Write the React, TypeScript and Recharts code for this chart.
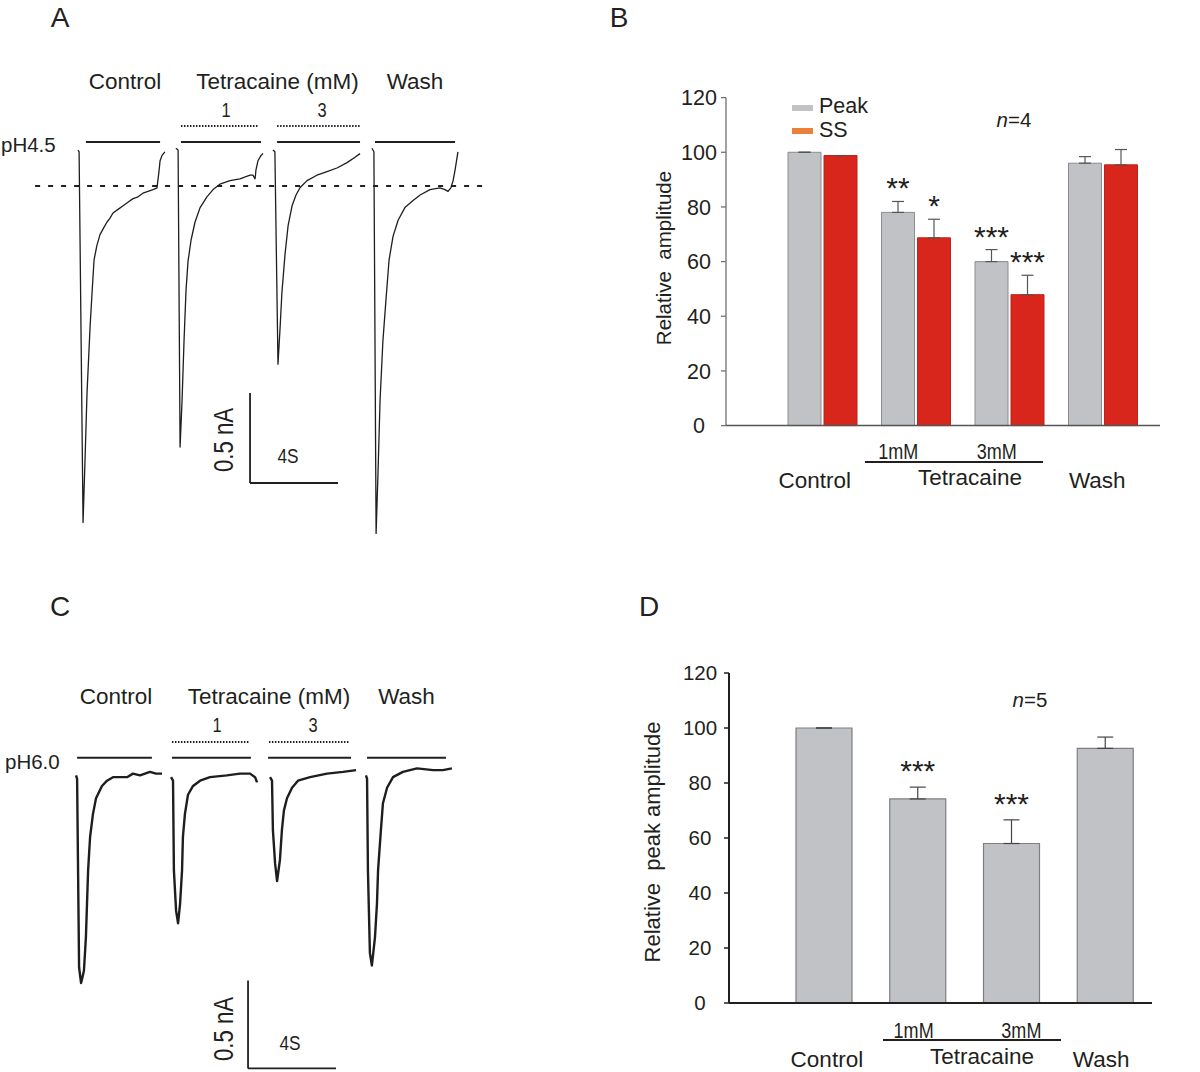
import React from 'react'
import {
  LineChart,
  Line,
  XAxis,
  YAxis,
  ReferenceLine,
  BarChart,
  Bar,
  ErrorBar,
  LabelList,
} from 'recharts'

// Figura de 4 paneles: registros (A, C) y barras normalizadas (B, D).

const INK = '#231f20'
const SANS = '"Liberation Sans", Arial, sans-serif'
const ESTRECHO = 0.82 // textos en Arial Narrow: se comprime la Liberation Sans
const GRIS = '#c1c2c6'
const GRIS_BORDE = '#8b8c90'
const ROJO = '#d8261d'
const ROJO_BORDE = '#b9231b'
const NARANJA = '#ec7f3a'

// ---- A: pH 4.5, [t (s), I (nA)] ----
const aControl = [
  [0, 0], [0.05, -0.01], [0.23, -2.07], [0.32, -1.72], [0.41, -1.35], [0.55, -0.98],
  [0.64, -0.79], [0.73, -0.61], [0.86, -0.53], [1.0, -0.47], [1.18, -0.43], [1.32, -0.4],
  [1.45, -0.38], [1.59, -0.35], [1.82, -0.33], [2.05, -0.31], [2.27, -0.29], [2.5, -0.27],
  [2.73, -0.26], [2.95, -0.24], [3.18, -0.23], [3.41, -0.22], [3.59, -0.21], [3.68, -0.12],
  [3.73, -0.06], [3.82, -0.03], [3.95, -0.01],
]
const a1mM = [
  [4.45, 0.01], [4.55, 0.0], [4.64, -1.65], [4.73, -1.39], [4.82, -1.06], [4.91, -0.78],
  [5.0, -0.62], [5.14, -0.5], [5.32, -0.4], [5.55, -0.32], [5.86, -0.26], [6.14, -0.22],
  [6.45, -0.19], [6.91, -0.17], [7.36, -0.16], [7.82, -0.14], [7.95, -0.14], [8.05, -0.16],
  [8.09, -0.11], [8.18, -0.06], [8.32, -0.03], [8.41, -0.02],
]
const a3mM = [
  [8.86, 0.0], [8.95, -0.01], [9.09, -1.19], [9.18, -1.0], [9.27, -0.79], [9.41, -0.58],
  [9.55, -0.42], [9.73, -0.31], [9.91, -0.25], [10.09, -0.21], [10.41, -0.17], [10.86, -0.14],
  [11.32, -0.12], [11.77, -0.1], [12.23, -0.07], [12.59, -0.04], [12.82, -0.02],
]
const aWash = [
  [13.36, 0.01], [13.45, -0.01], [13.55, -2.13], [13.64, -1.78], [13.73, -1.39], [13.86, -1.06],
  [14.0, -0.83], [14.14, -0.61], [14.32, -0.48], [14.55, -0.39], [14.86, -0.32], [15.23, -0.28],
  [15.55, -0.25], [16.0, -0.22], [16.45, -0.21], [16.68, -0.22], [16.82, -0.23], [16.95, -0.21],
  [17.05, -0.17], [17.14, -0.11], [17.27, -0.01],
]
const aPulses = [[0.36, 3.73], [4.68, 8.32], [9.05, 12.82], [13.5, 17.14]]
const aDrug = [[4.68, 8.18], [9.05, 12.82]]
const aSS = -0.2

// ---- C: pH 6.0 ----
const cControl = [
  [0, 0], [0.05, -0.02], [0.14, -1.09], [0.23, -1.18], [0.27, -1.16], [0.36, -1.11],
  [0.45, -0.92], [0.5, -0.73], [0.55, -0.54], [0.64, -0.35], [0.77, -0.22], [0.91, -0.13],
  [1.18, -0.06], [1.41, -0.03], [1.68, -0.01], [2.0, -0.01], [2.32, -0.01], [2.59, 0.01],
  [2.91, 0.0], [3.36, 0.02], [3.64, 0.01], [3.91, 0.01],
]
const c1mM = [
  [4.32, -0.01], [4.41, -0.03], [4.45, -0.54], [4.55, -0.77], [4.64, -0.84], [4.73, -0.73],
  [4.82, -0.54], [4.86, -0.35], [4.95, -0.22], [5.09, -0.11], [5.32, -0.06], [5.64, -0.03],
  [6.09, -0.01], [6.86, 0.0], [7.45, 0.01], [7.91, 0.01], [8.14, -0.01], [8.23, -0.04],
]
const c3mM = [
  [8.82, -0.01], [8.91, -0.03], [8.95, -0.31], [9.05, -0.5], [9.14, -0.6], [9.27, -0.48],
  [9.36, -0.31], [9.45, -0.2], [9.59, -0.13], [9.82, -0.07], [10.09, -0.03], [10.64, -0.01],
  [11.41, 0.01], [12.14, 0.02], [12.73, 0.03],
]
const cWash = [
  [13.18, 0.0], [13.23, -0.02], [13.27, -0.54], [13.36, -1.01], [13.45, -1.08], [13.59, -0.92],
  [13.68, -0.73], [13.73, -0.54], [13.86, -0.31], [13.95, -0.16], [14.14, -0.07], [14.41, -0.01],
  [14.86, 0.02], [15.5, 0.04], [16.23, 0.03], [16.68, 0.03], [17.09, 0.04],
]
const cPulses = [[0.05, 3.45], [4.36, 7.95], [8.73, 12.5], [13.23, 16.82]]
const cDrug = [[4.36, 7.86], [8.77, 12.45]]

// barra de escala: 4 s, 0.5 nA
const ESCALA_T = 4
const ESCALA_I = 0.5

// ---- B y D ----
const grupos = ['Control', '1mM', '3mM', 'Wash']
const bPeak = [100, 78, 60, 96]
const bPeakErr = [0, 4, 4.4, 2.4]
const bSS = [98.8, 68.7, 47.9, 95.4]
const bSSErr = [0, 6.8, 7.1, 5.6]
const bPeakStars = ['', '**', '***', '']
const bSSStars = ['', '*', '***', '']

const dPeak = [100, 74.2, 58, 92.6]
const dPeakErr = [0, 4.3, 8.6, 4.1]
const dStars = ['', '***', '***', '']

const yTicks = [0, 20, 40, 60, 80, 100, 120]

function Txt({ x, y, size = 22.5, anchor = 'middle', rotate = 0, narrow = false, children }: any) {
  const tx = anchor === 'middle' ? '-50%' : anchor === 'start' ? '0%' : '-100%'
  const origin = anchor === 'start' ? 'left center' : 'center'
  return (
    <div
      style={{
        position: 'absolute',
        left: x,
        top: y,
        transform: `translate(${tx}, -50%) rotate(${rotate}deg)${narrow ? ` scaleX(${ESTRECHO})` : ''}`,
        transformOrigin: origin,
        fontSize: size,
        fontFamily: SANS,
        lineHeight: 1,
        whiteSpace: 'pre',
        color: INK,
      }}
    >
      {children}
    </div>
  )
}

function Traces({ traces, pulses, drug, pulseY, drugY, ss, scaleAt, box, xDomain, yDomain, width }: any) {
  const [t0, i0] = scaleAt
  return (
    <div style={{ position: 'absolute', left: box.left, top: box.top }}>
      <LineChart width={box.width} height={box.height} margin={{ top: 0, right: 0, bottom: 0, left: 0 }}>
        <XAxis type="number" dataKey="t" domain={xDomain} hide allowDataOverflow />
        <YAxis type="number" domain={yDomain} hide allowDataOverflow />
        {pulses.map(([a, b]: number[], k: number) => (
          <ReferenceLine
            key={'p' + k}
            segment={[{ x: a, y: pulseY }, { x: b, y: pulseY }]}
            stroke={INK}
            strokeWidth={2}
            ifOverflow="visible"
          />
        ))}
        {drug.map(([a, b]: number[], k: number) => (
          <ReferenceLine
            key={'d' + k}
            segment={[{ x: a, y: drugY }, { x: b, y: drugY }]}
            stroke={INK}
            strokeWidth={2}
            strokeDasharray="1.5 1.5"
            ifOverflow="visible"
          />
        ))}
        {ss != null && (
          <ReferenceLine
            segment={[{ x: -1.95, y: ss }, { x: 18.6, y: ss }]}
            stroke={INK}
            strokeWidth={1.8}
            strokeDasharray="5 8"
            ifOverflow="visible"
          />
        )}
        <ReferenceLine
          segment={[{ x: t0, y: i0 }, { x: t0, y: i0 + ESCALA_I }]}
          stroke={INK}
          strokeWidth={1.8}
          ifOverflow="visible"
        />
        <ReferenceLine
          segment={[{ x: t0, y: i0 }, { x: t0 + ESCALA_T, y: i0 }]}
          stroke={INK}
          strokeWidth={1.8}
          ifOverflow="visible"
        />
        {traces.map((d: number[][], k: number) => (
          <Line
            key={k}
            data={d.map(([t, i]) => ({ t, i }))}
            dataKey="i"
            type="linear"
            dot={false}
            stroke="#1e1e1e"
            strokeWidth={width}
            strokeLinejoin="round"
            isAnimationActive={false}
          />
        ))}
      </LineChart>
    </div>
  )
}

const yTick = (shift: number, size: number) => (p: any) => (
  <text x={p.x - shift} y={p.y} dy="0.36em" textAnchor="middle" fontSize={size} fontFamily={SANS} fill={INK}>
    {p.payload.value}
  </text>
)

const xTick = (near: number, far: number, shifts: Record<string, number>) => (p: any) => {
  const v = p.payload.value
  const dosis = v === '1mM' || v === '3mM'
  const x = p.x + (shifts[v] ?? 0)
  const y = p.y + (dosis ? near : far)
  return (
    <text
      transform={`translate(${x} ${y}) scale(${dosis ? ESTRECHO : 1} 1)`}
      dy="0.36em"
      textAnchor="middle"
      fontSize={dosis ? 22 : 22.5}
      fontFamily={SANS}
      fill={INK}
    >
      {v}
    </text>
  )
}

const starLabel = (vals: number[], errs: number[], lift: number) => (p: any) => {
  const vb = p.viewBox ?? p
  const { x, y, width, height } = vb
  const idx = p.index
  if (!p.value || idx == null) return null
  const top = y - (errs[idx] * height) / vals[idx]
  return (
    <text x={x + width / 2} y={top - lift} textAnchor="middle" fontSize={30} fontFamily={SANS} fill={INK}>
      {p.value}
    </text>
  )
}

function PanelB() {
  const data = grupos.map((g, k) => ({
    g,
    peak: bPeak[k],
    ss: bSS[k],
    peakErr: [0, bPeakErr[k]],
    ssErr: [0, bSSErr[k]],
    peakStar: bPeakStars[k],
    ssStar: bSSStars[k],
  }))
  return (
    <div style={{ position: 'absolute', left: 640, top: 80 }}>
      <BarChart
        width={530}
        height={420}
        data={data}
        margin={{ top: 17.6, right: 10, bottom: 14.4, left: 26 }}
        barSize={33}
        barGap={3}
      >
        <XAxis
          dataKey="g"
          interval={0}
          padding={{ left: 50, right: 10 }}
          height={60}
          tickSize={0}
          tickLine={false}
          axisLine={{ stroke: '#555', strokeWidth: 1.5 }}
          tick={xTick(23, 52, { Control: -8, '1mM': -18, '3mM': -13, Wash: -6 })}
        />
        <YAxis
          width={60}
          domain={[0, 120]}
          ticks={yTicks}
          tickSize={5}
          tickMargin={2}
          axisLine={{ stroke: '#707070', strokeWidth: 1.3 }}
          tickLine={{ stroke: '#707070', strokeWidth: 1.3 }}
          tick={yTick(20, 21.5)}
        />
        <Bar dataKey="peak" fill={GRIS} stroke={GRIS_BORDE} strokeWidth={1} isAnimationActive={false}>
          <ErrorBar dataKey="peakErr" width={6} stroke="#555" strokeWidth={1.2} direction="y" />
          <LabelList dataKey="peakStar" content={starLabel(bPeak, bPeakErr, 3)} />
        </Bar>
        <Bar dataKey="ss" fill={ROJO} stroke={ROJO_BORDE} strokeWidth={1} isAnimationActive={false}>
          <ErrorBar dataKey="ssErr" width={6} stroke="#555" strokeWidth={1.2} direction="y" />
          <LabelList dataKey="ssStar" content={starLabel(bSS, bSSErr, 3)} />
        </Bar>
      </BarChart>
    </div>
  )
}

function PanelD() {
  const data = grupos.map((g, k) => ({
    g,
    peak: dPeak[k],
    peakErr: [0, dPeakErr[k]],
    star: dStars[k],
  }))
  return (
    <div style={{ position: 'absolute', left: 640, top: 650 }}>
      <BarChart
        width={520}
        height={422}
        data={data}
        margin={{ top: 23, right: 8, bottom: 9, left: 29 }}
        barSize={56}
      >
        <XAxis
          dataKey="g"
          interval={0}
          padding={{ left: 48, right: 0 }}
          height={60}
          tickSize={0}
          tickLine={false}
          axisLine={{ stroke: INK, strokeWidth: 2 }}
          tick={xTick(25, 54, { Control: 3, '1mM': -4, '3mM': 10, Wash: -4 })}
        />
        <YAxis
          width={60}
          domain={[0, 120]}
          ticks={yTicks}
          tickSize={5}
          tickMargin={2}
          axisLine={{ stroke: INK, strokeWidth: 2 }}
          tickLine={{ stroke: INK, strokeWidth: 1.5 }}
          tick={yTick(22, 20.5)}
        />
        <Bar dataKey="peak" fill={GRIS} stroke="#7e7f83" strokeWidth={1.2} isAnimationActive={false}>
          <ErrorBar dataKey="peakErr" width={8} stroke="#444" strokeWidth={1.2} direction="y" />
          <LabelList dataKey="star" content={starLabel(dPeak, dPeakErr, 6)} />
        </Bar>
      </BarChart>
    </div>
  )
}

export default function App() {
  return (
    <div
      style={{
        position: 'absolute',
        left: 0,
        top: 0,
        width: 1200,
        height: 1072,
        background: '#fff',
        overflow: 'hidden',
      }}
    >
      {/* letras de panel */}
      <Txt x={60} y={18} size={28}>A</Txt>
      <Txt x={619} y={18} size={28}>B</Txt>
      <Txt x={60} y={607} size={28}>C</Txt>
      <Txt x={649} y={607} size={28}>D</Txt>

      {/* A */}
      <Traces
        traces={[aControl, a1mM, a3mM, aWash]}
        pulses={aPulses}
        drug={aDrug}
        pulseY={0.044}
        drugY={0.133}
        ss={aSS}
        scaleAt={[7.82, -1.85]}
        box={{ left: 34, top: 96, width: 462, height: 450 }}
        xDomain={[-2, 19]}
        yDomain={[-2.2, 0.3]}
        width={1.3}
      />
      <Txt x={125} y={82}>Control</Txt>
      <Txt x={277.5} y={82}>Tetracaine (mM)</Txt>
      <Txt x={415} y={82}>Wash</Txt>
      <Txt x={226} y={110} size={20} narrow>1</Txt>
      <Txt x={322} y={110} size={20} narrow>3</Txt>
      <Txt x={1} y={145} size={20.5} anchor="start">pH4.5</Txt>
      <Txt x={224} y={440} size={27} narrow rotate={-90}>0.5 nA</Txt>
      <Txt x={288} y={455} size={21} narrow>4S</Txt>

      {/* C */}
      <Traces
        traces={[cControl, c1mM, c3mM, cWash]}
        pulses={cPulses}
        drug={cDrug}
        pulseY={0.1}
        drugY={0.19}
        ss={null}
        scaleAt={[7.82, -1.665]}
        box={{ left: 32, top: 704.6, width: 462, height: 387.2 }}
        xDomain={[-2, 19]}
        yDomain={[-1.8, 0.4]}
        width={2.4}
      />
      <Txt x={116} y={697}>Control</Txt>
      <Txt x={269} y={697}>Tetracaine (mM)</Txt>
      <Txt x={406.5} y={697}>Wash</Txt>
      <Txt x={217} y={725} size={20} narrow>1</Txt>
      <Txt x={313} y={725} size={20} narrow>3</Txt>
      <Txt x={5} y={762} size={20.5} anchor="start">pH6.0</Txt>
      <Txt x={224} y={1029} size={27} narrow rotate={-90}>0.5 nA</Txt>
      <Txt x={290} y={1042} size={21} narrow>4S</Txt>

      {/* B */}
      <PanelB />
      <Txt x={663.5} y={258} size={20.5} rotate={-90}>Relative  amplitude</Txt>
      <div style={{ position: 'absolute', left: 792, top: 105, width: 21, height: 6, background: GRIS }} />
      <div style={{ position: 'absolute', left: 792, top: 128, width: 21, height: 6, background: NARANJA }} />
      <Txt x={819} y={107} size={21.5} anchor="start">Peak</Txt>
      <Txt x={819} y={131} size={21.5} anchor="start">SS</Txt>
      <Txt x={1014} y={120} size={20.5}>
        <i>n</i>=4
      </Txt>
      <div style={{ position: 'absolute', left: 865, top: 461, width: 178, height: 1.6, background: INK }} />
      <Txt x={970} y={478}>Tetracaine</Txt>

      {/* D */}
      <PanelD />
      <Txt x={653} y={842} size={22} rotate={-90}>Relative  peak amplitude</Txt>
      <Txt x={1030} y={700} size={20.5}>
        <i>n</i>=5
      </Txt>
      <div style={{ position: 'absolute', left: 883, top: 1039, width: 178, height: 1.6, background: INK }} />
      <Txt x={982} y={1057}>Tetracaine</Txt>
    </div>
  )
}
